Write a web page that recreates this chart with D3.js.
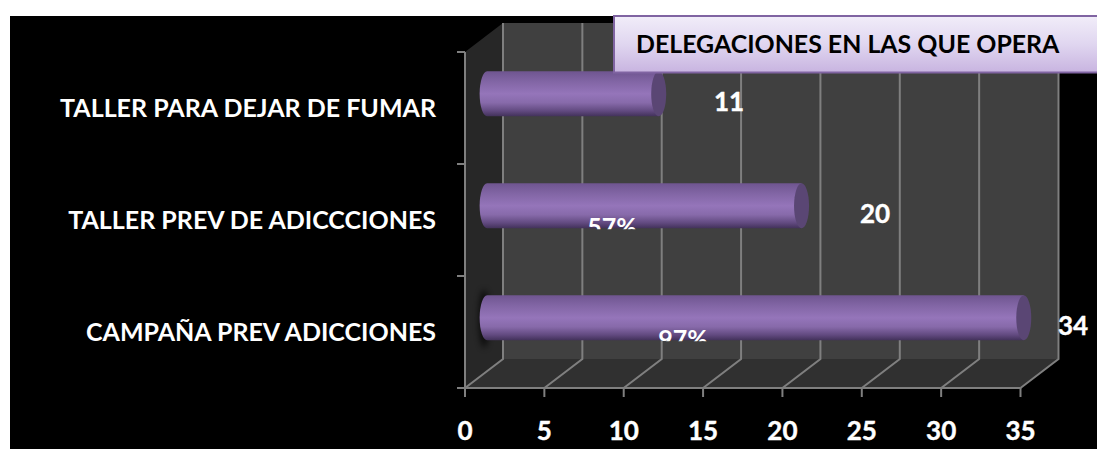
<!DOCTYPE html>
<html><head><meta charset="utf-8">
<style>html,body{margin:0;padding:0;background:#fff}svg{display:block}text{font-family:Lato,"Open Sans",sans-serif;font-weight:700}</style>
<script src="https://cdn.jsdelivr.net/npm/d3@7"></script></head>
<body><svg id="c" width="1097" height="449"></svg>
<script>
const categories=["TALLER PARA DEJAR DE FUMAR","TALLER PREV DE ADICCCIONES","CAMPAÑA PREV ADICCIONES"];
const values=[11,20,34];
const percentLabels=["","57%","97%"];
const xTicks=[0,5,10,15,20,25,30,35];
const titleText="DELEGACIONES EN LAS QUE OPERA";

const W=1097,H=449;
const svg=d3.select("#c");
const x=d3.scaleLinear().domain([0,35]).range([465,1020.5]);
const y=d3.scaleBand().domain(categories).range([52,388]).paddingInner(0).paddingOuter(0);
const dx=38,dy=-29,barDepth=.49,barH=45,rx=7.5;
const GRID="#7f7f7f";

const defs=svg.append("defs");
const g1=defs.append("linearGradient").attr("id","cyl").attr("x1",0).attr("x2",0).attr("y1",0).attr("y2",1);
[[0,"#6f5590"],[.22,"#8165a4"],[.5,"#9575ba"],[.7,"#876aaa"],[.88,"#624a80"],[1,"#42315a"]].forEach(s=>g1.append("stop").attr("offset",s[0]).attr("stop-color",s[1]));
const g2=defs.append("linearGradient").attr("id","ttl").attr("x1",0).attr("x2",0).attr("y1",0).attr("y2",1);
[[0,"#f1edf9"],[.5,"#e0d6f0"],[1,"#c8b4e0"]].forEach(s=>g2.append("stop").attr("offset",s[0]).attr("stop-color",s[1]));
defs.append("filter").attr("id","blur").attr("x","-100%").attr("width","300%").append("feGaussianBlur").attr("stdDeviation",3);

svg.append("rect").attr("x",10).attr("y",16).attr("width",W-10).attr("height",H-16).attr("fill","#000");

const yTop=y.range()[0],yBot=y.range()[1];
// walls
const X0=x(0),X1=x(35);
svg.append("path").attr("fill","#404040").attr("d",d3.line()([[X0+dx,yTop+dy],[X1+dx,yTop+dy],[X1+dx,yBot+dy],[X0+dx,yBot+dy]])+"Z");
svg.append("path").attr("fill","#272727").attr("d",d3.line()([[X0,yTop],[X0+dx,yTop+dy],[X0+dx,yBot+dy],[X0,yBot]])+"Z");
svg.append("path").attr("fill","#303030").attr("d",d3.line()([[X0,yBot],[X0+dx,yBot+dy],[X1+dx,yBot+dy],[X1,yBot]])+"Z");

// gridlines
const grid=svg.append("g").attr("fill","none").attr("stroke",GRID).attr("stroke-width",2);
grid.selectAll("path").data(xTicks).join("path").attr("d",t=>d3.line()([[x(t),yBot],[x(t)+dx,yBot+dy],[x(t)+dx,yTop+dy]]));
// axes
const axes=svg.append("g").attr("stroke",GRID).attr("stroke-width",2).attr("fill","none");
axes.append("line").attr("x1",X0).attr("x2",X0).attr("y1",yTop).attr("y2",yBot+9);
axes.append("line").attr("x1",X0-8).attr("x2",X1).attr("y1",yBot).attr("y2",yBot);
axes.selectAll("line.xt").data(xTicks).join("line").attr("class","xt").attr("x1",x).attr("x2",x).attr("y1",yBot).attr("y2",yBot+9);
axes.selectAll("line.yt").data([yTop,y(categories[1]),y(categories[2])]).join("line").attr("class","yt").attr("x1",X0-8).attr("x2",X0).attr("y1",d=>d).attr("y2",d=>d);

// shadow of the longest bar on the side wall
const cy=c=>y(c)+y.bandwidth()/2+dy*barDepth;
const x0b=x(0)+dx*barDepth+3.5;
svg.append("ellipse").attr("cx",x0b-3).attr("cy",cy(categories[2])+1).attr("rx",5).attr("ry",29).attr("fill","#000").attr("opacity",.75).attr("filter","url(#blur)");

// bars
const pctX=[0,612,683];
values.forEach((v,i)=>{
  const c=categories[i],g=svg.append("g");
  const xe=x(v)+dx*barDepth+.5,m=cy(c),t=m-barH/2,b=m+barH/2;
  g.append("path").attr("fill","url(#cyl)").attr("d",`M${x0b},${t}L${xe},${t}L${xe},${b}L${x0b},${b}A${rx},${barH/2} 0 0 1 ${x0b},${t}Z`);
  g.append("ellipse").attr("cx",xe).attr("cy",m).attr("rx",rx).attr("ry",barH/2).attr("fill","#5a4674");
  defs.append("clipPath").attr("id","cl"+i).append("rect").attr("x",x0b).attr("y",t).attr("width",xe-x0b).attr("height",barH+1);
  if(percentLabels[i]) g.append("g").attr("clip-path",`url(#cl${i})`).append("text").attr("x",pctX[i]).attr("y",b+7.5).attr("text-anchor","middle").attr("fill","#fff").attr("font-size",25).text(percentLabels[i]);
});

// value labels
const valX=[729,875,1073],valY=[111,223,334.5];
svg.append("g").selectAll("text").data(values).join("text").attr("x",(d,i)=>valX[i]).attr("y",(d,i)=>valY[i]).attr("text-anchor","middle").attr("fill","#fff").attr("stroke","#fff").attr("stroke-width",.4).attr("font-size",26).text(d=>d);

// category labels
svg.append("g").selectAll("text").data(categories).join("text").attr("x",436).attr("y",d=>y(d)+y.bandwidth()/2+9).attr("text-anchor","end").attr("fill","#fff").attr("font-size",25).text(d=>d);

// x tick labels
svg.append("g").selectAll("text").data(xTicks).join("text").attr("x",x).attr("y",440).attr("text-anchor","middle").attr("fill","#fff").attr("stroke","#fff").attr("stroke-width",.4).attr("font-size",26).text(d=>d);

// title box
svg.append("rect").attr("x",614).attr("y",16).attr("width",W-614+4).attr("height",56.5).attr("fill","url(#ttl)").attr("stroke","#8064a2").attr("stroke-width",2);
svg.append("text").attr("x",636).attr("y",53).attr("fill","#000").attr("font-size",24.9).text(titleText);
</script></body></html>
